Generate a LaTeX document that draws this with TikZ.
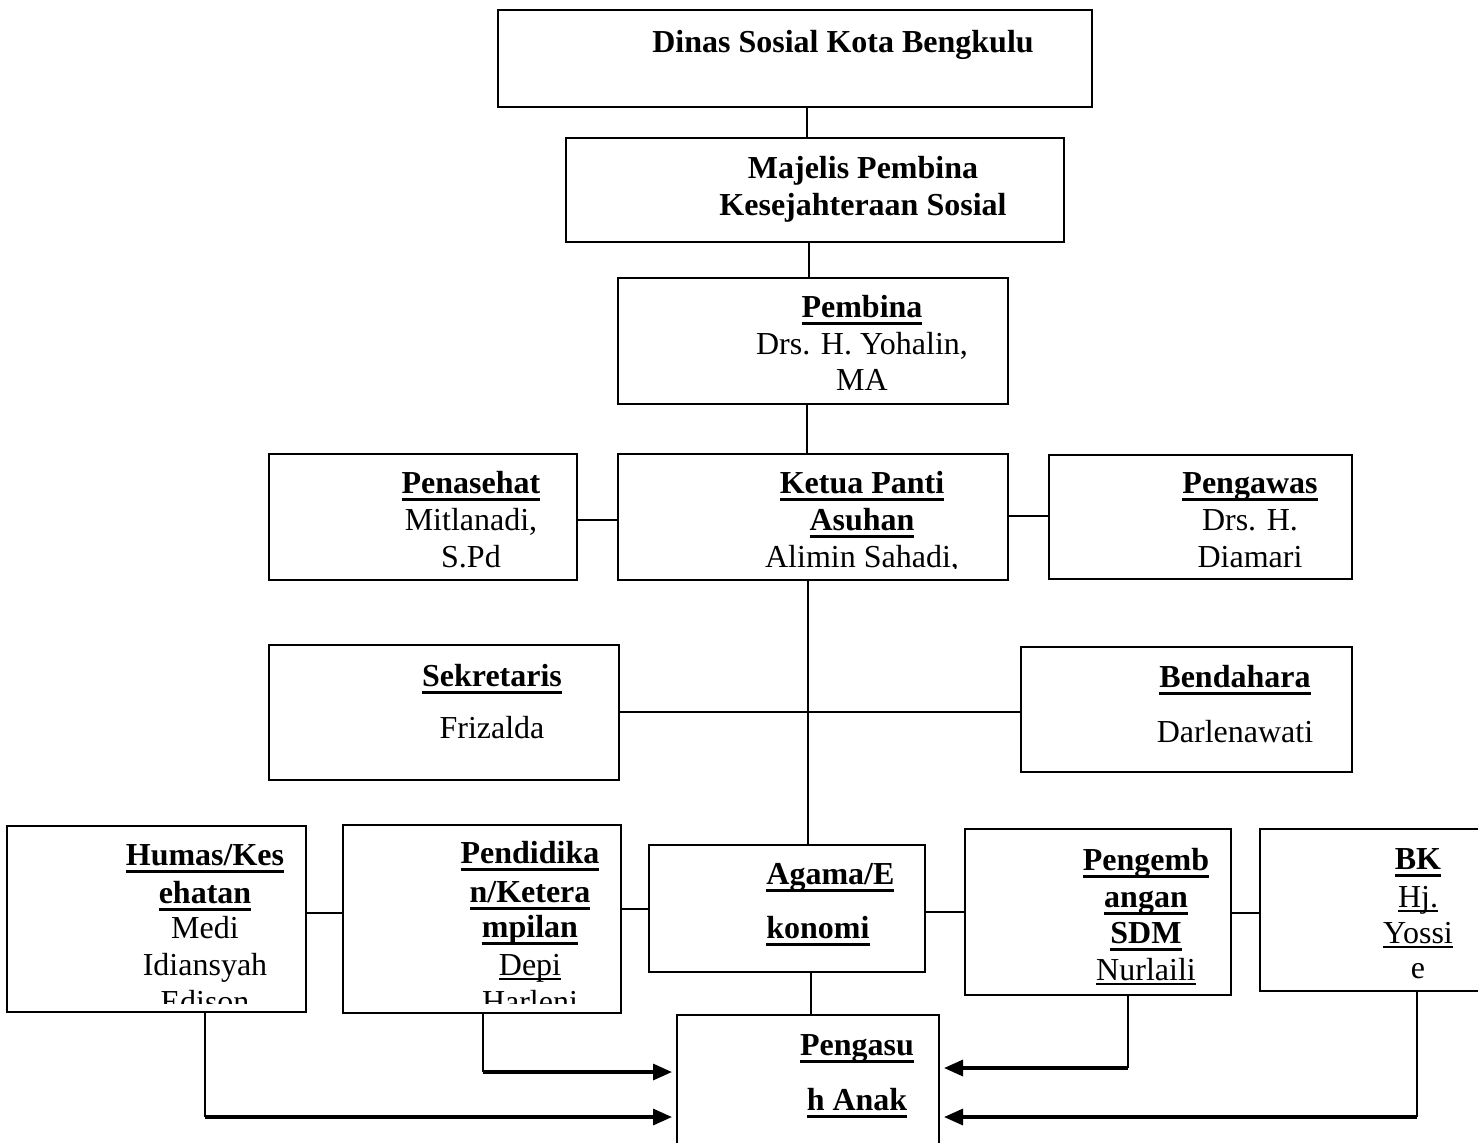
\documentclass[tikz,border=0pt]{standalone}
\usepackage{fontspec}
\setmainfont{Liberation Serif}
\usetikzlibrary{fit,arrows.meta}
\newcommand\myulb[1]{\setbox0\hbox{#1}\rlap{\rule[-4pt]{\wd0}{1.5pt}}\box0}
\newcommand\myuln[1]{\setbox0\hbox{#1}\rlap{\rule[-2.3pt]{\wd0}{0.6pt}}\box0}
\newcommand\txtline[4]{\node[txt] (#1) at (#2,#3) {#4};}
\newcommand\txtlinel[4]{\node[txtl] (#1) at (#2,#3) {#4};}
\begin{document}
\begin{tikzpicture}[x=0.5pt,y=-0.5pt,
  font=\fontsize{16pt}{18.5pt}\selectfont,
  box/.style={draw, line width=1pt, inner sep=0pt},
  txt/.style={anchor=base, inner sep=0pt},
  txtl/.style={anchor=base west, inner sep=0pt},
  conn/.style={line width=0.8pt},
  arr/.style={line width=1.6pt, -{Triangle[length=9.5pt,width=8pt]}, shorten >=2pt}]
\useasboundingbox (0,0) rectangle (1478,1142);
\fill[white] (0,0) rectangle (1478,1142);

% boxes
\node[box, fit={(498,10) (1092,107)}] (dinas) {};
\node[box, fit={(566,138) (1064,242)}] (majelis) {};
\node[box, fit={(618,278) (1008,404)}] (pembina) {};
\node[box, fit={(269,454) (577,580)}] (penasehat) {};
\node[box, fit={(618,454) (1008,580)}] (ketua) {};
\node[box, fit={(1049,455) (1352,579)}] (pengawas) {};
\node[box, fit={(269,645) (619,780)}] (sekretaris) {};
\node[box, fit={(1021,647) (1352,772)}] (bendahara) {};
\node[box, fit={(7,826) (306,1012)}] (humas) {};
\node[box, fit={(343,825) (621,1013)}] (pendidikan) {};
\node[box, fit={(649,845) (925,972)}] (agama) {};
\node[box, fit={(965,829) (1231,995)}] (pengemb) {};
\node[box, fit={(1260,829) (1500,991)}] (bk) {};
\node[box, fit={(677,1015) (939,1175)}] (pengasuh) {};

% texts
\txtline{tDinas}{843}{52}{\bfseries Dinas Sosial Kota Bengkulu}
\txtline{tMaj1}{863}{178}{\bfseries Majelis Pembina}
\txtline{tMaj2}{863}{215}{\bfseries Kesejahteraan Sosial}

\txtline{tPem1}{862}{317}{\myulb{\bfseries Pembina}}
\txtline{tPem2}{862}{354}{Drs. H. Yohalin,}
\txtline{tPem3}{862}{390}{MA}

\txtline{tPen1}{471}{493}{\myulb{\bfseries Penasehat}}
\txtline{tPen2}{471}{530}{Mitlanadi,}
\txtline{tPen3}{471}{567}{S.Pd}

\begin{scope}
\clip (618,454) rectangle (1008,568);
\txtline{tKet1}{862}{493}{\myulb{\bfseries Ketua Panti}}
\txtline{tKet2}{862}{530}{\myulb{\bfseries Asuhan}}
\txtline{tKet3}{862}{567}{Alimin Sahadi,}
\end{scope}

\begin{scope}
\clip (1049,455) rectangle (1352,568);
\txtline{tPgw1}{1250}{493}{\myulb{\bfseries Pengawas}}
\txtline{tPgw2}{1250}{530}{Drs. H.}
\txtline{tPgw3}{1250}{567}{Diamari}
\end{scope}

\txtline{tSek1}{492}{686}{\myulb{\bfseries Sekretaris}}
\txtline{tSek2}{492}{738}{Frizalda}

\txtline{tBen1}{1235}{687}{\myulb{\bfseries Bendahara}}
\txtline{tBen2}{1235}{742}{Darlenawati}

\begin{scope}
\clip (7,826) rectangle (306,1003);
\txtline{tHum1}{205}{865}{\myulb{\bfseries Humas/Kes}}
\txtline{tHum2}{205}{903}{\myulb{\bfseries ehatan}}
\txtline{tHum3}{205}{938}{Medi}
\txtline{tHum4}{205}{975}{Idiansyah}
\txtline{tHum5}{205}{1012}{Edison}
\end{scope}

\begin{scope}
\clip (343,825) rectangle (621,1003);
\txtline{tPdd1}{530}{863}{\myulb{\bfseries Pendidika}}
\txtline{tPdd2}{530}{902}{\myulb{\bfseries n/Ketera}}
\txtline{tPdd3}{530}{937}{\myulb{\bfseries mpilan}}
\txtline{tPdd4}{530}{975}{\myuln{Depi}}
\txtline{tPdd5}{530}{1012}{Harleni}
\end{scope}

\txtlinel{tAga1}{766}{884}{\myulb{\bfseries Agama/E}}
\txtlinel{tAga2}{766}{938}{\myulb{\bfseries konomi}}

\txtline{tPgm1}{1146}{870}{\myulb{\bfseries Pengemb}}
\txtline{tPgm2}{1146}{907}{\myulb{\bfseries angan}}
\txtline{tPgm3}{1146}{943}{\myulb{\bfseries SDM}}
\txtline{tPgm4}{1146}{980}{\myuln{Nurlaili}}

\txtline{tBK1}{1418}{869}{\myulb{\bfseries BK}}
\txtline{tBK2}{1418}{907}{\myuln{Hj.}}
\txtline{tBK3}{1418}{943}{\myuln{Yossi}}
\txtline{tBK4}{1418}{978}{e}

\txtline{tAsh1}{857}{1055}{\myulb{\bfseries Pengasu}}
\txtline{tAsh2}{857}{1110}{\myulb{\bfseries h Anak}}

% connectors
\coordinate (s1) at (807,0);
\coordinate (s2) at (809,0);
\coordinate (s3) at (808,0);
\coordinate (s4) at (811,0);
\draw[conn] (dinas.south -| s1) -- (majelis.north -| s1);
\draw[conn] (majelis.south -| s2) -- (pembina.north -| s2);
\draw[conn] (pembina.south -| s1) -- (ketua.north -| s1);
\draw[conn] (ketua.south -| s3) -- (agama.north -| s3);
\draw[conn] (agama.south -| s4) -- (pengasuh.north -| s4);

\coordinate (h1) at (0,520);
\coordinate (h2) at (0,516);
\coordinate (h3) at (0,712);
\coordinate (h4) at (0,913);
\coordinate (h5) at (0,909);
\coordinate (h6) at (0,912);
\draw[conn] (penasehat.east |- h1) -- (ketua.west |- h1);
\draw[conn] (ketua.east |- h2) -- (pengawas.west |- h2);
\draw[conn] (sekretaris.east |- h3) -- (bendahara.west |- h3);
\draw[conn] (humas.east |- h4) -- (pendidikan.west |- h4);
\draw[conn] (pendidikan.east |- h5) -- (agama.west |- h5);
\draw[conn] (agama.east |- h6) -- (pengemb.west |- h6);
\draw[conn] (pengemb.east |- h4) -- (bk.west |- h4);

% arrows to Pengasuh Anak
\coordinate (a1) at (483,1072);
\coordinate (a2) at (205,1117);
\coordinate (a3) at (1128,1068);
\coordinate (a4) at (1417,1117);
\draw[conn] (pendidikan.south -| a1) -- (a1);
\draw[arr] (a1) -- (pengasuh.west |- a1);
\draw[conn] (humas.south -| a2) -- (a2);
\draw[arr] (a2) -- (pengasuh.west |- a2);
\draw[conn] (pengemb.south -| a3) -- (a3);
\draw[arr] (a3) -- (pengasuh.east |- a3);
\draw[conn] (bk.south -| a4) -- (a4);
\draw[arr] (a4) -- (pengasuh.east |- a4);
\end{tikzpicture}
\end{document}
